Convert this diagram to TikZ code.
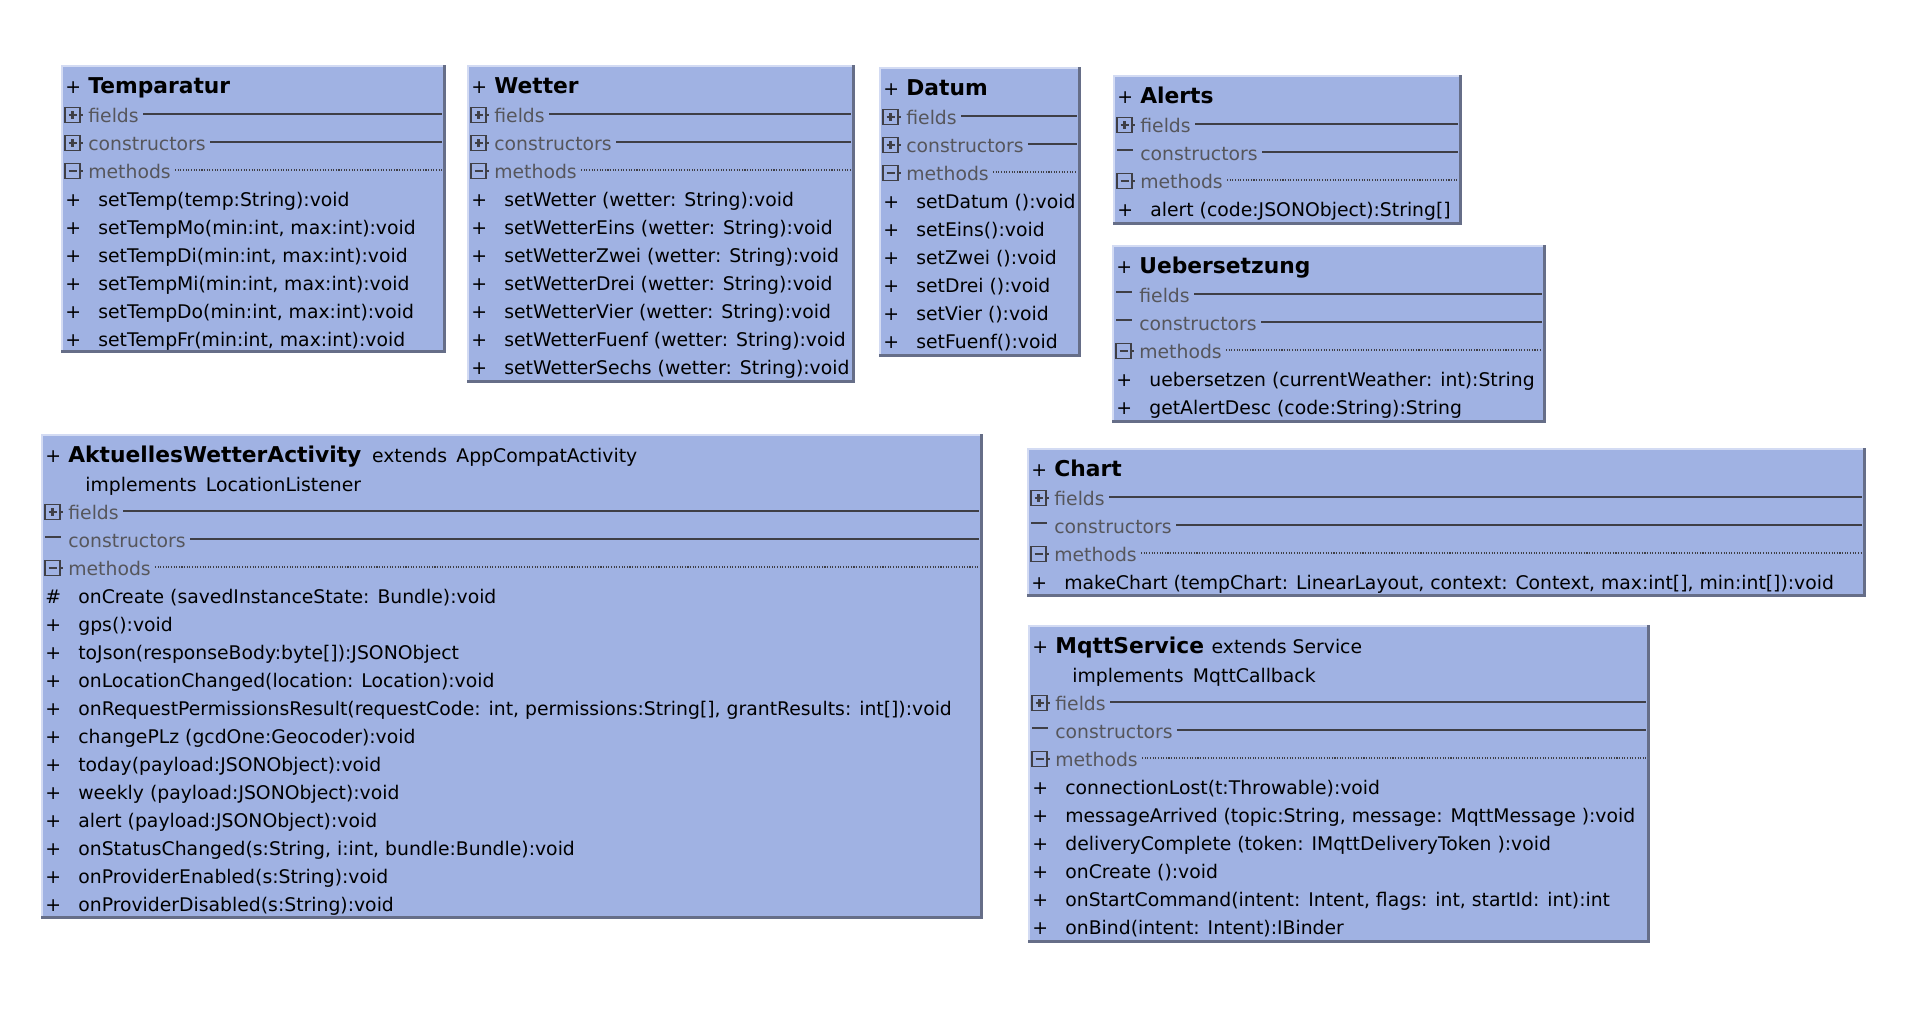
\documentclass[tikz,border=0pt]{standalone}
\usepackage{fontspec}
\setmainfont{DejaVu Sans}
\usetikzlibrary{calc}
\definecolor{umlfill} {HTML}{A0B2E3}
\definecolor{umllight}{HTML}{D3DBF3}
\definecolor{umlshade}{HTML}{666E88}
\definecolor{umlrule} {HTML}{3F3F46}
\definecolor{umlgray} {HTML}{56565C}

% x offsets inside a class box
\newcommand\visx{4}
\newcommand\iconx{4}
\newcommand\namex{27}
\newcommand\memx{37}

% box of one class: #1 name, #2 #3 top left, #4 #5 bottom right
\newcommand\umlframe[5]{%
  \fill[umlfill] (#2,#3) rectangle (#4,#5);
  \draw[umllight, line width=1pt] (#2+0.9,#5) -- (#2+0.9,#3+0.9) -- (#4,#3+0.9);
  \draw[umlshade, line width=1.6pt] (#2,#5-1.4) -- (#4-1.4,#5-1.4) -- (#4-1.4,#3);
  \coordinate (#1-nw) at (#2,#3);
  \coordinate (#1-r) at (#4-4,#3);
}

% fields / constructors / methods: #1 name, #2 first baseline, #3-#5 icons
\newcommand\umlsections[5]{%
  \pic at ($(#1-nw)+(\iconx,#2-7)$) {#3};
  \node[sect] (#1-fld) at ($(#1-nw)+(\namex,#2)$) {fields};
  \coordinate (#1-fa) at ($(#1-fld.base east)+(4,-8)$);
  \draw[sectline] (#1-fa) -- (#1-fa -| #1-r);
  \pic at ($(#1-nw)+(\iconx,#2+21)$) {#4};
  \node[sect] (#1-con) at ($(#1-nw)+(\namex,#2+28)$) {constructors};
  \coordinate (#1-ca) at ($(#1-con.base east)+(4,-8)$);
  \draw[sectline] (#1-ca) -- (#1-ca -| #1-r);
  \pic at ($(#1-nw)+(\iconx,#2+49)$) {#5};
  \node[sect] (#1-mth) at ($(#1-nw)+(\namex,#2+56)$) {methods};
  \coordinate (#1-ma) at ($(#1-mth.base east)+(4,-8)$);
  \draw[dotline] (#1-ma) -- (#1-ma -| #1-r);
}

% method rows: #1 name, #2 first baseline, #3 list of visibility/signature
\newcommand\umlmethods[3]{%
  \foreach \vis/\sig [count=\k from 0] in {#3} {
    \node[member] (#1-v\k) at ($(#1-nw)+(\visx,#2+28*\k)$) {\vis};
    \node[member] (#1-m\k) at ($(#1-nw)+(\memx,#2+28*\k)$) {\sig};
  }%
}

\begin{document}
\begin{tikzpicture}[x=0.02cm, y=-0.02cm,
    member/.style={anchor=base west, inner sep=0pt,
                   font=\fontsize{10.7}{13}\selectfont},
    sect/.style={member, text=umlgray},
    cname/.style={anchor=base west, inner sep=0pt,
                  font=\bfseries\fontsize{12.4}{15}\selectfont},
    sectline/.style={draw=umlrule, line width=1.1pt},
    dotline/.style={draw=umlrule, line width=0.7pt, dash pattern=on 0.6pt off 0.9pt},
    plusbox/.pic={
      \draw[umlrule, line width=1pt] (0,-7.5) rectangle (15,7.5);
      \draw[umlrule, line width=1.2pt] (3.5,0) -- (11.5,0) (7.5,-4) -- (7.5,4);
      \draw[umlrule, line width=0.6pt] (15,0) -- (18,0);
    },
    minusbox/.pic={
      \draw[umlrule, line width=1pt] (0,-7.5) rectangle (15,7.5);
      \draw[umlrule, line width=1.2pt] (3.5,0) -- (11.5,0);
      \draw[umlrule, line width=0.6pt] (15,0) -- (18,0);
    },
    dashmark/.pic={
      \draw[umlrule, line width=1.1pt] (0,-3) -- (16,-3);
    },
  ]
  \fill[white] (0,0) rectangle (1924,1008);
  \useasboundingbox (0,0) rectangle (1924,1008);

  % Temparatur
  \umlframe{temp}{61}{65}{446}{353}
  \node[member] (temp-vis)  at ($(temp-nw)+(\visx,28)$)  {+};
  \node[cname]  (temp-name) at ($(temp-nw)+(\namex,28)$) {Temparatur};
  \umlsections{temp}{57}{plusbox}{plusbox}{minusbox}
  \umlmethods{temp}{141}{+/{setTemp(temp:String):void},
    +/{setTempMo(min:int, max:int):void},
    +/{setTempDi(min:int, max:int):void},
    +/{setTempMi(min:int, max:int):void},
    +/{setTempDo(min:int, max:int):void},
    +/{setTempFr(min:int, max:int):void}}

  % Wetter
  \umlframe{wet}{467}{65}{855}{383}
  \node[member] (wet-vis)  at ($(wet-nw)+(\visx,28)$)  {+};
  \node[cname]  (wet-name) at ($(wet-nw)+(\namex,28)$) {Wetter};
  \umlsections{wet}{57}{plusbox}{plusbox}{minusbox}
  \umlmethods{wet}{141}{+/{setWetter (wetter: String):void},
    +/{setWetterEins (wetter: String):void},
    +/{setWetterZwei (wetter: String):void},
    +/{setWetterDrei (wetter: String):void},
    +/{setWetterVier (wetter: String):void},
    +/{setWetterFuenf (wetter: String):void},
    +/{setWetterSechs (wetter: String):void}}

  % Datum
  \umlframe{dat}{879}{67}{1081}{357}
  \node[member] (dat-vis)  at ($(dat-nw)+(\visx,28)$)  {+};
  \node[cname]  (dat-name) at ($(dat-nw)+(\namex,28)$) {Datum};
  \umlsections{dat}{57}{plusbox}{plusbox}{minusbox}
  \umlmethods{dat}{141}{+/{setDatum ():void},
    +/{setEins():void},
    +/{setZwei ():void},
    +/{setDrei ():void},
    +/{setVier ():void},
    +/{setFuenf():void}}

  % Alerts
  \umlframe{alr}{1113}{75}{1462}{225}
  \node[member] (alr-vis)  at ($(alr-nw)+(\visx,28)$)  {+};
  \node[cname]  (alr-name) at ($(alr-nw)+(\namex,28)$) {Alerts};
  \umlsections{alr}{57}{plusbox}{dashmark}{minusbox}
  \umlmethods{alr}{141}{+/{alert (code:JSONObject):String[]}}

  % Uebersetzung
  \umlframe{ueb}{1112}{245}{1546}{423}
  \node[member] (ueb-vis)  at ($(ueb-nw)+(\visx,28)$)  {+};
  \node[cname]  (ueb-name) at ($(ueb-nw)+(\namex,28)$) {Uebersetzung};
  \umlsections{ueb}{57}{dashmark}{dashmark}{minusbox}
  \umlmethods{ueb}{141}{+/{uebersetzen (currentWeather: int):String},
    +/{getAlertDesc (code:String):String}}

  % AktuellesWetterActivity
  \umlframe{akt}{41}{434}{983}{919}
  \node[member] (akt-vis)  at ($(akt-nw)+(\visx,28)$)  {+};
  \node[cname]  (akt-name) at ($(akt-nw)+(\namex,28)$) {AktuellesWetterActivity};
  \node[member] (akt-ext)  at ($(akt-name.base east)+(10,0)$) {extends\enspace AppCompatActivity};
  \node[member] (akt-impl) at ($(akt-nw)+(44,57)$) {implements\enspace LocationListener};
  \umlsections{akt}{85}{plusbox}{dashmark}{minusbox}
  \umlmethods{akt}{169}{\#/{onCreate (savedInstanceState: Bundle):void},
    +/{gps():void},
    +/{toJson(responseBody:byte[]):JSONObject},
    +/{onLocationChanged(location: Location):void},
    +/{onRequestPermissionsResult(requestCode: int, permissions:String[], grantResults: int[]):void},
    +/{changePLz (gcdOne:Geocoder):void},
    +/{today(payload:JSONObject):void},
    +/{weekly (payload:JSONObject):void},
    +/{alert (payload:JSONObject):void},
    +/{onStatusChanged(s:String, i:int, bundle:Bundle):void},
    +/{onProviderEnabled(s:String):void},
    +/{onProviderDisabled(s:String):void}}

  % Chart
  \umlframe{cht}{1027}{448}{1866}{597}
  \node[member] (cht-vis)  at ($(cht-nw)+(\visx,28)$)  {+};
  \node[cname]  (cht-name) at ($(cht-nw)+(\namex,28)$) {Chart};
  \umlsections{cht}{57}{plusbox}{dashmark}{minusbox}
  \umlmethods{cht}{141}{+/{makeChart (tempChart: LinearLayout, context: Context, max:int[], min:int[]):void}}

  % MqttService
  \umlframe{mqt}{1028}{625}{1650}{943}
  \node[member] (mqt-vis)  at ($(mqt-nw)+(\visx,28)$)  {+};
  \node[cname]  (mqt-name) at ($(mqt-nw)+(\namex,28)$) {MqttService};
  \node[member] (mqt-ext)  at ($(mqt-name.base east)+(7,0)$) {extends Service};
  \node[member] (mqt-impl) at ($(mqt-nw)+(44,57)$) {implements\enspace MqttCallback};
  \umlsections{mqt}{85}{plusbox}{dashmark}{minusbox}
  \umlmethods{mqt}{169}{+/{connectionLost(t:Throwable):void},
    +/{messageArrived (topic:String, message: MqttMessage ):void},
    +/{deliveryComplete (token: IMqttDeliveryToken ):void},
    +/{onCreate ():void},
    +/{onStartCommand(intent: Intent, flags: int, startId: int):int},
    +/{onBind(intent: Intent):IBinder}}
\end{tikzpicture}
\end{document}
